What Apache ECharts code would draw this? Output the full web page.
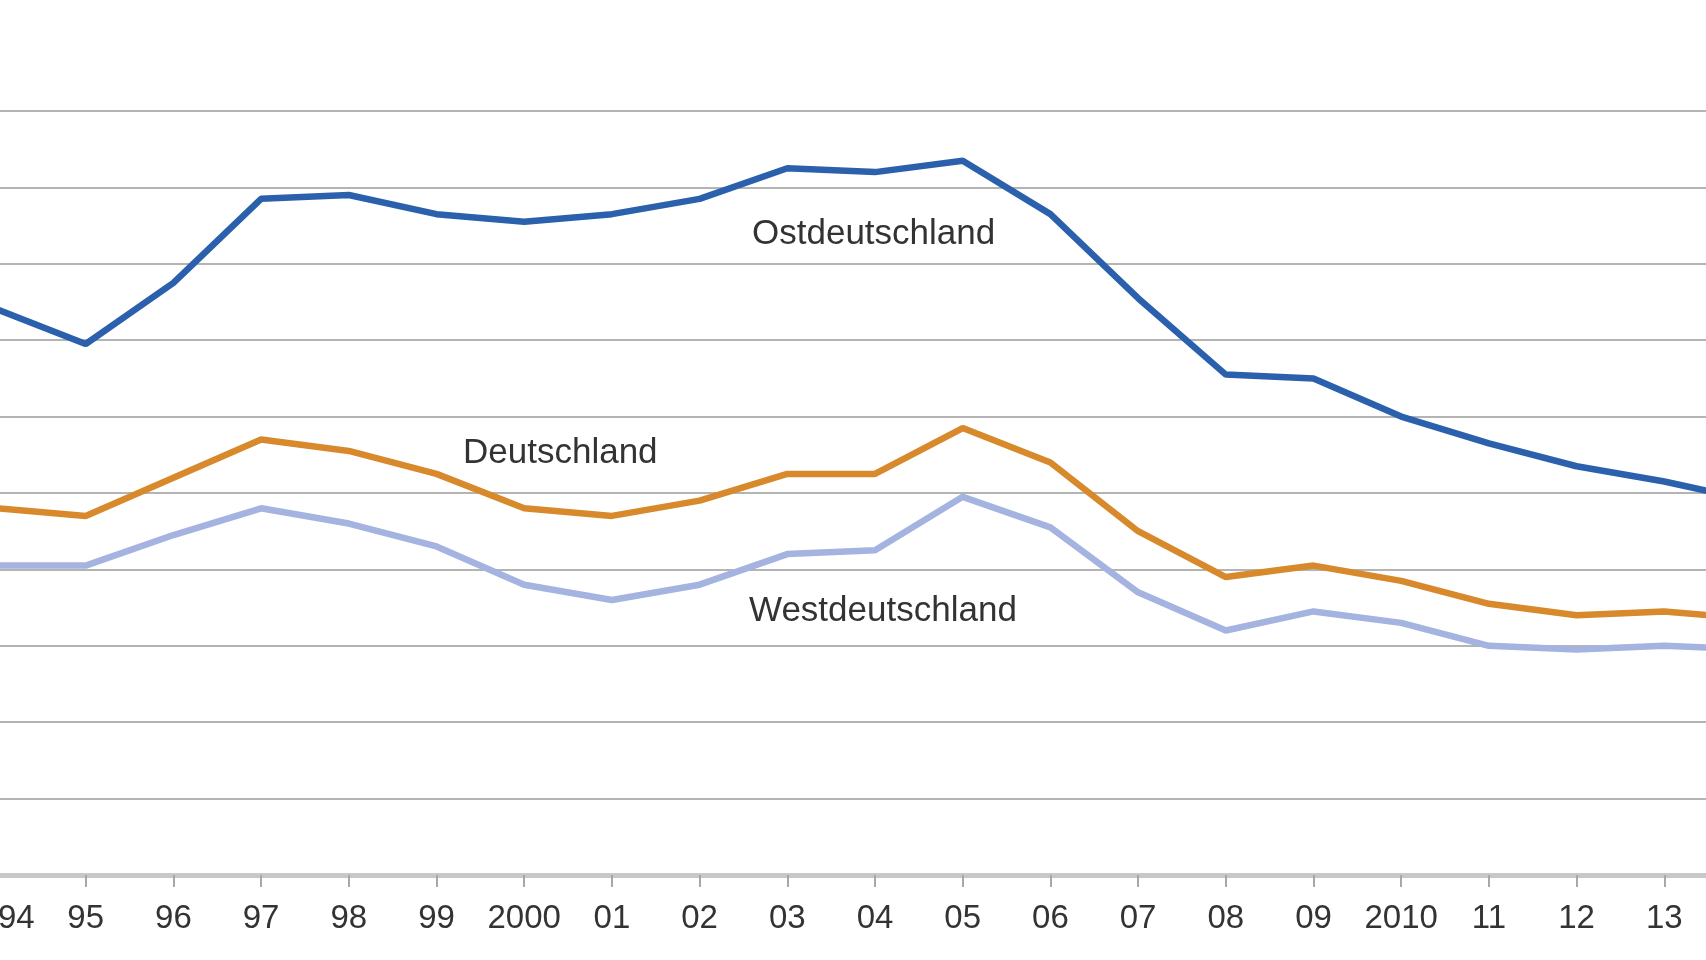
<!DOCTYPE html>
<html>
<head>
<meta charset="utf-8">
<script src="https://cdn.jsdelivr.net/npm/echarts@6/dist/echarts.min.js"></script>
<style>
html,body{margin:0;padding:0;background:#fff;}
#chart{width:1706px;height:960px;}
</style>
</head>
<body>
<div id="chart"></div>
<script>
var years = [1994,1995,1996,1997,1998,1999,2000,2001,2002,2003,2004,2005,2006,2007,2008,2009,2010,2011,2012,2013,2014];
var tickLabels = ['94','95','96','97','98','99','2000','01','02','03','04','05','06','07','08','09','2010','11','12','13',''];
var ost = [14.8,13.9,15.5,17.7,17.8,17.3,17.1,17.3,17.7,18.5,18.4,18.7,17.3,15.1,13.1,13.0,12.0,11.3,10.7,10.3,9.8];
var deutschland = [9.6,9.4,10.4,11.4,11.1,10.5,9.6,9.4,9.8,10.5,10.5,11.7,10.8,9.0,7.8,8.1,7.7,7.1,6.8,6.9,6.7];
var west = [8.1,8.1,8.9,9.6,9.2,8.6,7.6,7.2,7.6,8.4,8.5,9.9,9.1,7.4,6.4,6.9,6.6,6.0,5.9,6.0,5.9];
var seriesNames = ['Ostdeutschland','Deutschland','Westdeutschland'];

var chart = echarts.init(document.getElementById('chart'));
var labelFont = {fontFamily:'Liberation Sans, Arial, sans-serif', fontSize:35, fill:'#333'};
chart.setOption({
  animation:false,
  backgroundColor:'#fff',
  grid:{left:-2, right:-46, top:111, bottom:85, containLabel:false, outerBoundsMode:'none'},
  xAxis:{
    type:'category',
    data:years,
    boundaryGap:false,
    axisLine:{show:true, lineStyle:{color:'#c8c8c8', width:5}},
    axisTick:{show:true, length:12, lineStyle:{color:'#a8a8a8', width:2}},
    axisLabel:{
      interval:0, margin:27, fontSize:33, color:'#333',
      fontFamily:'Liberation Sans, Arial, sans-serif',
      alignMinLabel:'left',
      formatter:function(v, i){ return tickLabels[i]; }
    },
    splitLine:{show:false}
  },
  yAxis:{
    type:'value', min:0, max:20, interval:2,
    axisLabel:{show:false}, axisLine:{show:false}, axisTick:{show:false},
    splitLine:{lineStyle:{color:'#b4b4b4', width:2}}
  },
  series:[
    {name:seriesNames[0], type:'line', data:ost, symbol:'none', lineStyle:{color:'#2B61AC', width:6.5}, z:3},
    {name:seriesNames[1], type:'line', data:deutschland, symbol:'none', lineStyle:{color:'#D8892B', width:6.5}, z:2},
    {name:seriesNames[2], type:'line', data:west, symbol:'none', lineStyle:{color:'#A4B3DF', width:6.5}, z:1}
  ],
  graphic:[
    {type:'text', left:752, top:217, style:Object.assign({text:seriesNames[0]}, labelFont)},
    {type:'text', left:463, top:436, style:Object.assign({text:seriesNames[1]}, labelFont)},
    {type:'text', left:749, top:594, style:Object.assign({text:seriesNames[2]}, labelFont)}
  ]
});
</script>
</body>
</html>
